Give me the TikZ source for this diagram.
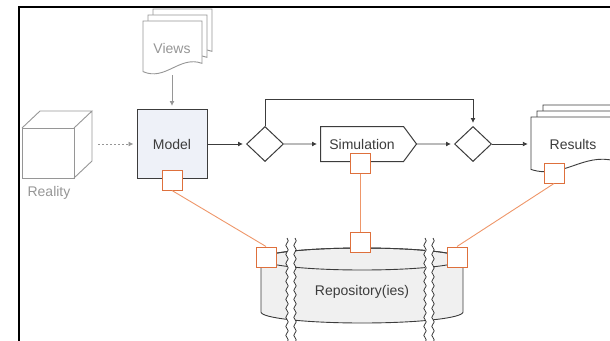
\documentclass[tikz,border=0pt]{standalone}
\usepackage{fontspec}
\setmainfont{Liberation Sans}
\usetikzlibrary{arrows.meta,shapes.geometric,shapes.symbols,decorations.pathmorphing}

\definecolor{linegray}{RGB}{60,60,60}
\definecolor{softgray}{RGB}{150,150,150}
\definecolor{modelfill}{RGB}{238,241,248}
\definecolor{repofill}{RGB}{240,240,240}
\definecolor{portorange}{RGB}{222,112,60}
\definecolor{linkorange}{RGB}{238,150,105}

\tikzset{
  flow/.style={-{Latex[length=5pt,width=5pt]}, linegray, line width=0.9pt, shorten >=3pt},
  port/.style={draw=portorange, fill=white, line width=1pt, minimum size=20pt, inner sep=0pt},
  link/.style={linkorange, line width=0.9pt},
  decision/.style={diamond, draw=linegray, fill=white, line width=1pt, minimum width=37pt, minimum height=35pt, inner sep=0pt},
  caption/.style={font=\fontsize{14}{16}\selectfont, text=linegray},
  page/.style={draw=#1, fill=white, line width=0.9pt},
}

% one page of a document stack: style, x, y, width, height
\newcommand{\docpage}[5]{%
  \draw[#1] (#2,#3) -- (#2+#4,#3) -- (#2+#4,#3+0.77*#5)
    .. controls (#2+0.62*#4,#3+0.62*#5) and (#2+0.38*#4,#3+1.1*#5) .. (#2,#3+0.92*#5) -- cycle;}

\begin{document}
\begin{tikzpicture}[x=1pt, y=-1pt]
    \useasboundingbox (0,0) rectangle (610,340);
    \clip (0,0) rectangle (610,340);

    % Frame of the slide
    \draw[black, line width=2pt] (19,345) -- (19,7) -- (615,7);

    % Views stack
    \foreach \k in {2,1,0} {\docpage{page=softgray}{143+5*\k}{21-6*\k}{59}{55}}
    \node[caption, text=softgray, minimum width=59pt, minimum height=54pt] (views) at (172,48) {Views};

    % Reality cube
    \node[minimum width=70pt, minimum height=67pt, inner sep=0pt] (reality) at (57,144) {};
    \draw[softgray, line width=0.9pt] (22,128) rectangle (74,178);
    \draw[softgray, line width=0.9pt] (22,128) -- (40,111) -- (92,111) -- (74,128)
        (92,111) -- (92,161) -- (74,178);
    \node[caption, text=softgray] (realitytext) at (49,193) {Reality};

    % Main flow
    \node[draw=linegray, fill=modelfill, line width=1pt, minimum width=70pt, minimum height=69pt, caption] (model) at (172,144) {Model};
    \node[decision] (dec1) at (265,144) {};
    \node[signal, signal to=east, signal pointer angle=107, draw=linegray, fill=white, line width=1pt,
          minimum width=96pt, minimum height=35pt, inner sep=2pt, anchor=west, caption] (sim) at (320,144) {Simulation};
    \node[decision] (dec2) at (473,144) {};

    % Results stack
    \foreach \k in {2,1,0} {\docpage{page=linegray}{531+6*\k}{117-6*\k}{84}{57}}
    \node[caption, minimum width=84pt, minimum height=54pt] (results) at (573,144) {Results};

    \draw[flow, softgray] (views) -- (model);
    \draw[flow, softgray, dash pattern=on 2pt off 2pt] ([xshift=6pt]reality.east) -- (model);
    \draw[flow] (model) -- (dec1);
    \draw[flow] (dec1) -- (sim);
    \draw[flow] (sim) -- (dec2);
    \draw[flow] (dec2) -- (results);
    \draw[flow] (dec1.north) -- ++(0,-27) -| (dec2.north);

    % Repository cylinder with breaks
    \draw[linegray, fill=repofill, line width=0.9pt] (261,259) -- (261,312)
        arc[start angle=180, end angle=0, x radius=101, y radius=11] -- (463,259)
        arc[start angle=0, end angle=-180, x radius=101, y radius=11] -- cycle;
    \draw[linegray, line width=0.9pt] (362,259) ellipse [x radius=101, y radius=11];
    \fill[white] (287,236) rectangle (295,345);
    \fill[white] (425,236) rectangle (433,345);
    \foreach \bx in {287,295,425,433}
        \draw[linegray, line width=0.8pt, decorate, decoration={snake, amplitude=1.2pt, segment length=9pt}] (\bx,238) -- (\bx,345);
    \node[caption] (repo) at (362,292) {Repository(ies)};

    % Ports and links
    \node[port] (pmodel) at (172,180) {};
    \node[port] (psim) at (360,163) {};
    \node[port] (presults) at (554,173) {};
    \node[port] (prepoL) at (266,257) {};
    \node[port] (prepoM) at (360,242) {};
    \node[port] (prepoR) at (457,257) {};
    \draw[link] (pmodel.south) -- (prepoL.north);
    \draw[link] (psim) -- (prepoM);
    \draw[link] (presults.south) -- (prepoR.north);
\end{tikzpicture}
\end{document}
